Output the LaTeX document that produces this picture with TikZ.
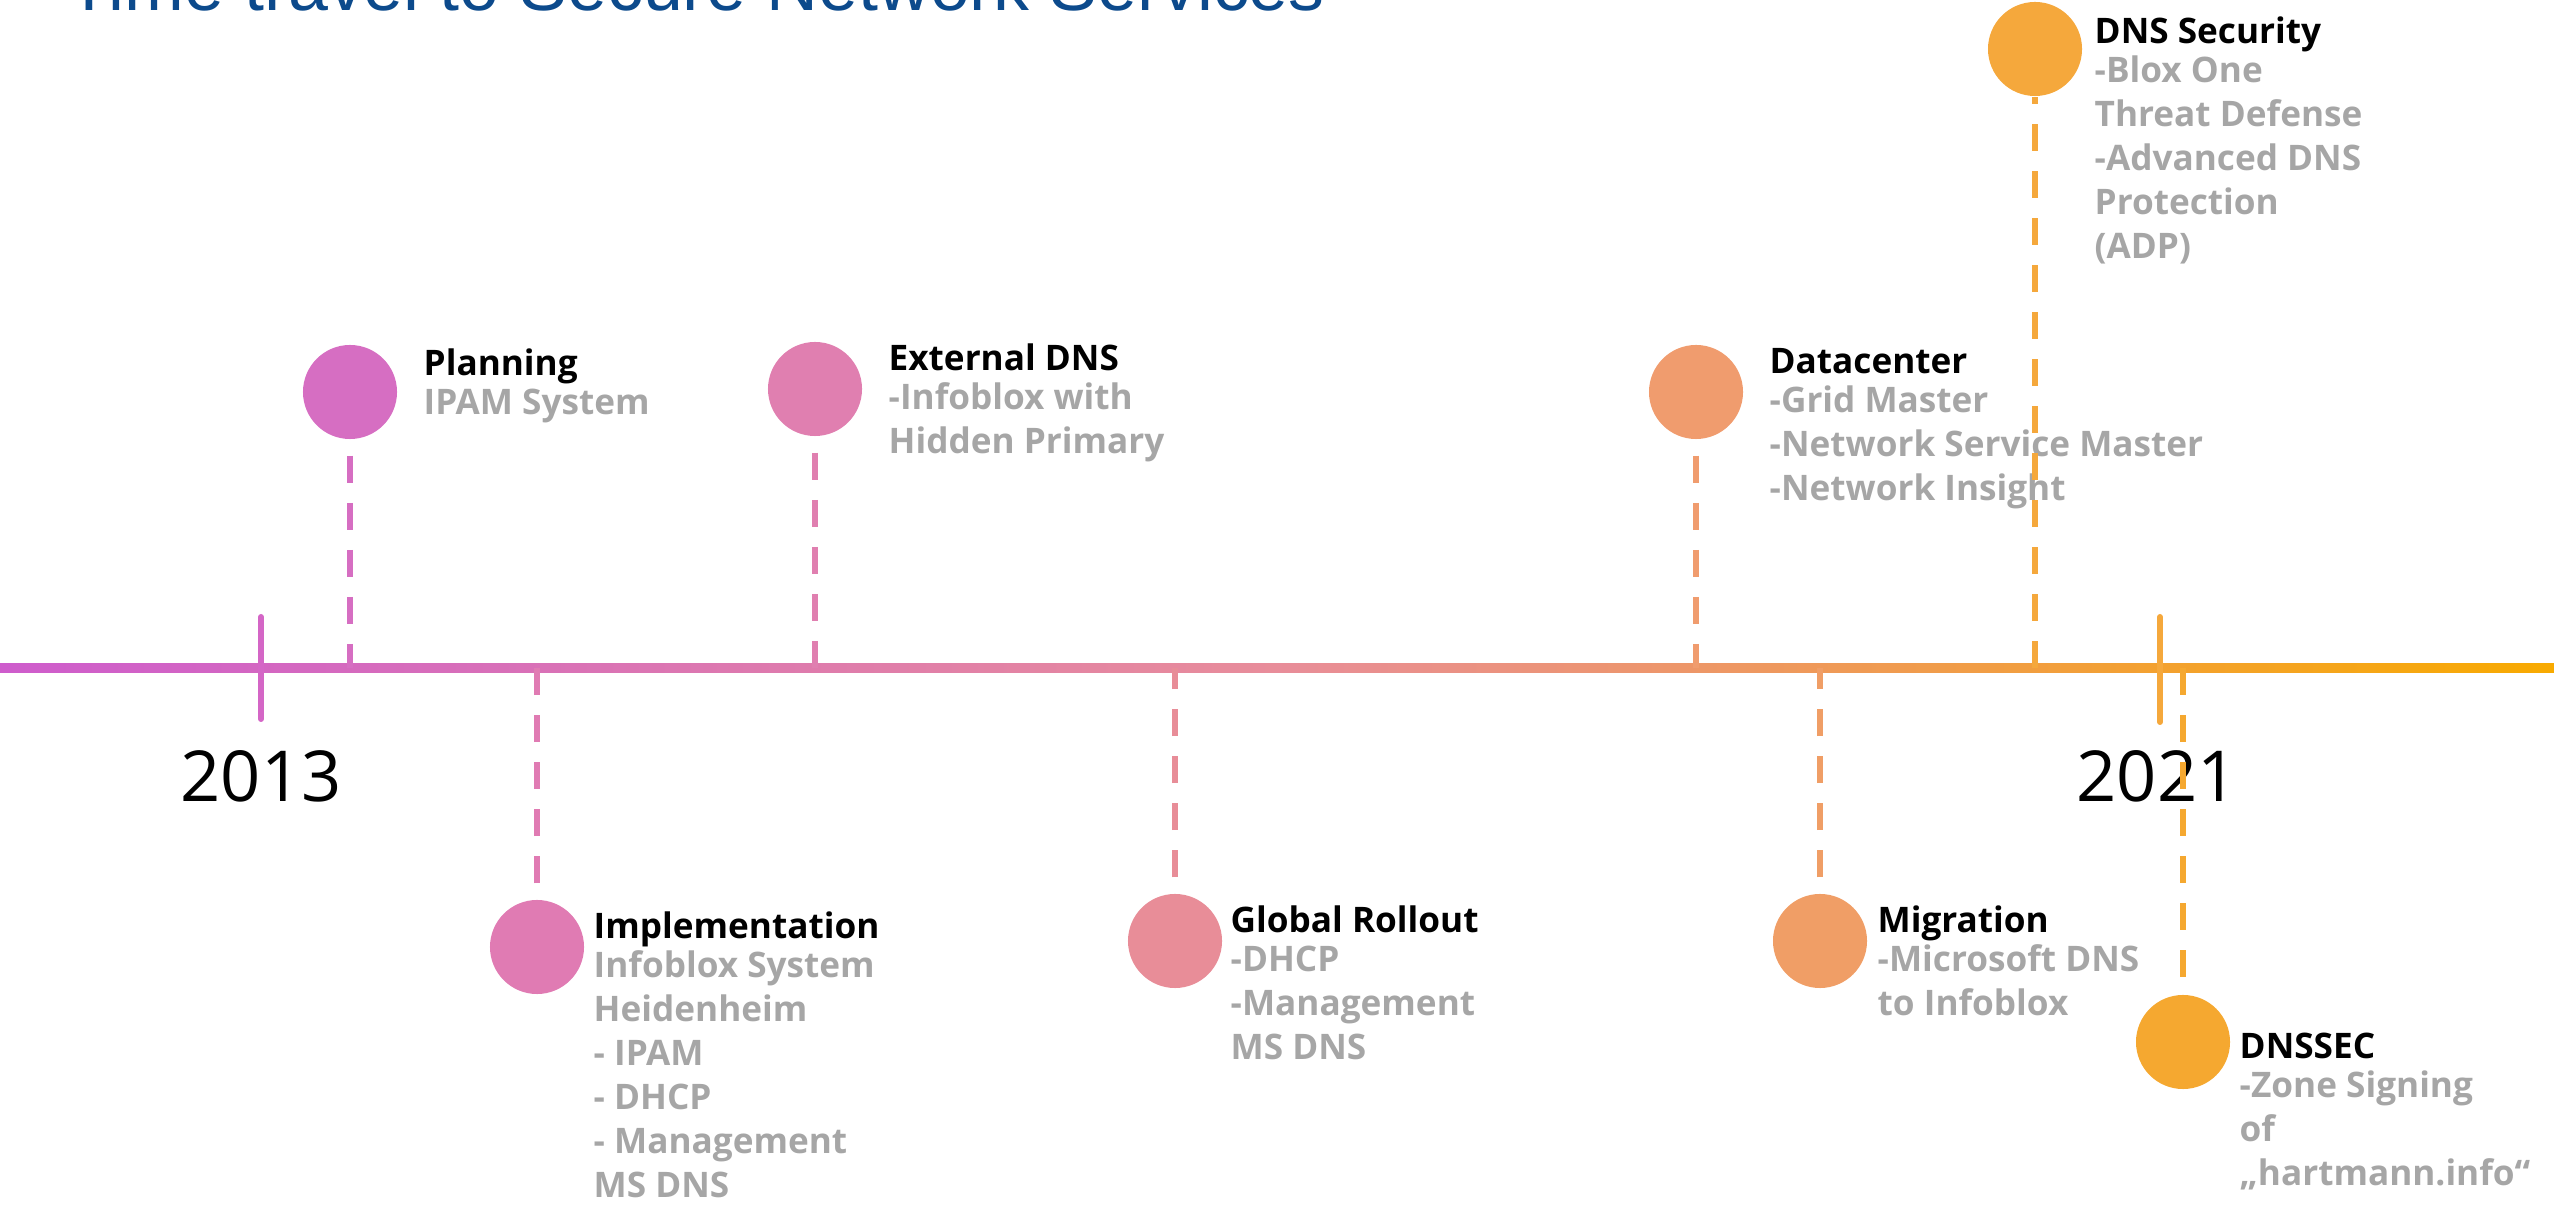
\documentclass[tikz,border=0pt]{standalone}
\usepackage{tikz}
\usepackage{xcolor}
\usepackage{fontspec}
\setmainfont{Open Sans}
\newfontfamily\headfont{Liberation Sans}

\definecolor{headblue}{RGB}{12,74,140}
\definecolor{descgray}{RGB}{166,166,166}
\definecolor{tlstart}{RGB}{206,92,204}
\definecolor{tlmid}{RGB}{232,141,154}
\definecolor{tlend}{RGB}{248,170,0}
\definecolor{tickA}{RGB}{212,102,198}
\definecolor{tickB}{RGB}{245,168,60}
\definecolor{cPlan}{RGB}{214,110,194}
\definecolor{cImpl}{RGB}{224,123,179}
\definecolor{cExt}{RGB}{224,127,176}
\definecolor{cRoll}{RGB}{232,141,152}
\definecolor{cDc}{RGB}{240,156,110}
\definecolor{cMigr}{RGB}{240,158,102}
\definecolor{cSecur}{RGB}{245,168,60}
\definecolor{cSec}{RGB}{245,168,48}

\tikzset{
	dot/.style={circle,fill=#1,inner sep=0pt,minimum size=0.94cm},
	stem/.style={draw=#1,line width=0.06cm,dash pattern=on 0.27cm off 0.2cm},
	yeartick/.style={draw=#1,line width=0.06cm,line cap=round},
	evtext/.style={anchor=north west,yshift=8.75pt,align=left,inner sep=0pt,text=descgray,
		font=\fontsize{10pt}{12.5pt}\selectfont\bfseries},
	year/.style={anchor=base,inner sep=0pt,font=\fontsize{20pt}{24pt}\selectfont},
}

\begin{document}
\begin{tikzpicture}[x=0.01cm,y=-0.01cm]
		\useasboundingbox (0,0) rectangle (2554,1207);
		\clip (0,0) rectangle (2554,1207);
		\node[anchor=base west,inner sep=0pt,text=headblue,font=\headfont\fontsize{20.4pt}{24pt}\selectfont] (head) at (67,11) {Time travel to Secure Network Services};
		% texts, placed at the baseline of their first line
		\node[evtext] (plan-txt) at (423,375) {\strut\textcolor{black}{Planning}\\[-1.4pt]IPAM System};
		\node[evtext] (ext-txt) at (888,370) {\strut\textcolor{black}{External DNS}\\[-1.4pt]-Infoblox with\\Hidden Primary};
		\node[evtext] (dc-txt) at (1769,373) {\strut\textcolor{black}{Datacenter}\\[-1.4pt]-Grid Master\\-Network Service Master\\-Network Insight};
		\node[evtext] (secur-txt) at (2094,43) {\strut\textcolor{black}{DNS Security}\\[-1.4pt]-Blox One\\Threat Defense\\-Advanced DNS\\Protection\\(ADP)};
		\node[evtext] (impl-txt) at (593,938) {\strut\textcolor{black}{Implementation}\\[-1.4pt]Infoblox System\\Heidenheim\\- IPAM\\- DHCP\\- Management\\MS DNS};
		\node[evtext] (roll-txt) at (1230,932) {\strut\textcolor{black}{Global Rollout}\\[-1.4pt]-DHCP\\-Management\\MS DNS};
		\node[evtext] (migr-txt) at (1877,932) {\strut\textcolor{black}{Migration}\\[-1.4pt]-Microsoft DNS\\to Infoblox};
		\node[evtext] (sec-txt) at (2239,1058) {\strut\textcolor{black}{DNSSEC}\\[-1.4pt]-Zone Signing\\of\\„hartmann.info“};
		\node[year] (y2013) at (261,802) {2013};
		\node[year] (y2021) at (2157,802) {2021};
		% timeline
		\shade[left color=tlstart,right color=tlend,middle color=tlmid] (0,663.5) rectangle (2554,672.5);
		\coordinate (tl) at (0,668);
		\draw[yeartick=tickA] (261,617) -- (261,719);
		\draw[yeartick=tickB] (2160,617) -- (2160,722);
		% milestones
		\node[dot=cPlan] (plan) at (350,392) {};
		\node[dot=cImpl] (impl) at (537,947) {};
		\node[dot=cExt] (ext) at (815,389) {};
		\node[dot=cRoll] (roll) at (1175,941) {};
		\node[dot=cDc] (dc) at (1696,392) {};
		\node[dot=cMigr] (migr) at (1820,941) {};
		\node[dot=cSecur] (secur) at (2035,49) {};
		\node[dot=cSec] (sec) at (2183,1042) {};
		\draw[stem=cPlan,shorten <=0.16cm] (plan) -- (plan |- tl);
		\draw[stem=cImpl,shorten <=0.16cm] (impl) -- (impl |- tl);
		\draw[stem=cExt,shorten <=0.16cm] (ext) -- (ext |- tl);
		\draw[stem=cRoll,shorten <=0.16cm] (roll) -- (roll |- tl);
		\draw[stem=cDc,shorten <=0.16cm] (dc) -- (dc |- tl);
		\draw[stem=cMigr,shorten <=0.16cm] (migr) -- (migr |- tl);
		\draw[stem=cSecur] (secur |- tl) -- (secur);
		\draw[stem=cSec] (sec |- tl) -- (sec);
	\end{tikzpicture}
\end{document}
